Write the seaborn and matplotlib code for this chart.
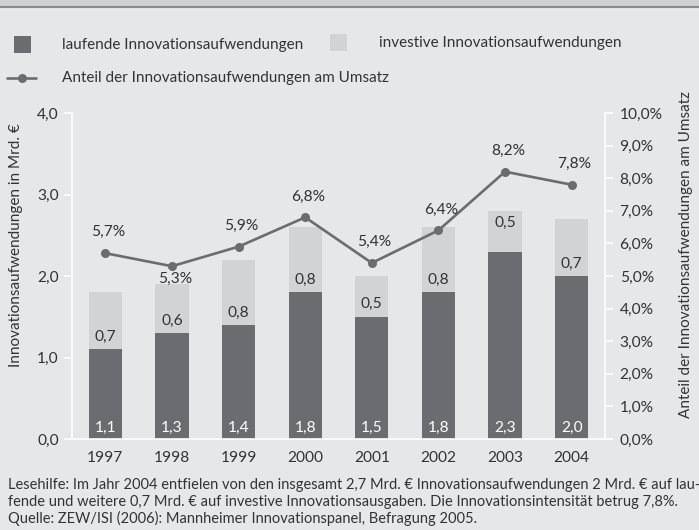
import matplotlib
matplotlib.use("Agg")
import matplotlib.pyplot as plt
from matplotlib.patches import Rectangle
from matplotlib.lines import Line2D
from matplotlib.ticker import FixedLocator, FuncFormatter
import seaborn as sns
import pandas as pd

# ---- data ----
years = ["1997", "1998", "1999", "2000", "2001", "2002", "2003", "2004"]
laufende = [1.1, 1.3, 1.4, 1.8, 1.5, 1.8, 2.3, 2.0]
investive = [0.7, 0.6, 0.8, 0.8, 0.5, 0.8, 0.5, 0.7]
anteil = [5.7, 5.3, 5.9, 6.8, 5.4, 6.4, 8.2, 7.8]
left_ticks = [0.0, 1.0, 2.0, 3.0, 4.0]
right_ticks = [0, 1, 2, 3, 4, 5, 6, 7, 8, 9, 10]

legend_labels = ["laufende Innovationsaufwendungen",
                 "investive Innovationsaufwendungen",
                 "Anteil der Innovationsaufwendungen am Umsatz"]
ylabel_left = "Innovationsaufwendungen in Mrd. €"
ylabel_right = "Anteil der Innovationsaufwendungen am Umsatz"
footnote_lines = [
    "Lesehilfe: Im Jahr 2004 entfielen von den insgesamt 2,7 Mrd. € Innovationsaufwendungen 2 Mrd. € auf lau-",
    "fende und weitere 0,7 Mrd. € auf investive Innovationsausgaben. Die Innovationsintensität betrug 7,8%.",
    "Quelle: ZEW/ISI (2006): Mannheimer Innovationspanel, Befragung 2005.",
]

BG = "#e6e7e9"
DARK = "#6b6c70"
LIGHT = "#d2d3d5"
TXT = "#333333"

sns.set_theme(style="white")
plt.rcParams["font.family"] = ["Lato", "DejaVu Sans"]

W, H = 699, 530
fig = plt.figure(figsize=(W / 100, H / 100), dpi=100, facecolor=BG)


def px(x, y):
    return x / W, 1 - y / H


df = pd.DataFrame({"year": years, "laufende": laufende, "investive": investive,
                   "total": [a + b for a, b in zip(laufende, investive)], "anteil": anteil})

ax = fig.add_axes([72 / W, 1 - 439 / H, (605 - 72) / W, (439 - 113) / H])
ax.set_facecolor(BG)
sns.barplot(data=df, x="year", y="total", color=LIGHT, width=0.5, saturation=1,
            edgecolor="none", linewidth=0, ax=ax)
sns.barplot(data=df, x="year", y="laufende", color=DARK, width=0.5, saturation=1,
            edgecolor="none", linewidth=0, ax=ax)
ax.set_xlim(-0.5, len(years) - 0.5)
ax.set_ylim(0, 4)
ax.set_xlabel("")
ax.set_ylabel("")
ax.yaxis.set_major_locator(FixedLocator(left_ticks))
ax.yaxis.set_major_formatter(FuncFormatter(lambda v, p: f"{v:.1f}".replace(".", ",")))

for s in ["top", "right"]:
    ax.spines[s].set_visible(False)
for s in ["left", "bottom"]:
    ax.spines[s].set_color("white")
    ax.spines[s].set_linewidth(1.2)
ax.tick_params(axis="y", colors="white", length=6, width=1.2, pad=3.5, labelsize=11.2, labelcolor=TXT)
ax.tick_params(axis="x", length=0, pad=9, labelsize=11.2, labelcolor=TXT)

# bar labels
for i, (lv, iv) in enumerate(zip(laufende, investive)):
    ax.annotate(f"{lv:.1f}".replace(".", ","), xy=(i, 0), xytext=(0, 8), textcoords="offset points",
                ha="center", va="center", color="white", fontsize=11.2)
    if years[i] == "2003":
        ax.annotate(f"{iv:.1f}".replace(".", ","), xy=(i, lv + iv), xytext=(0, -8.5), textcoords="offset points",
                    ha="center", va="center", color=TXT, fontsize=11.2)
    else:
        ax.annotate(f"{iv:.1f}".replace(".", ","), xy=(i, lv), xytext=(0, 9), textcoords="offset points",
                    ha="center", va="center", color=TXT, fontsize=11.2)

# right axis line
ax2 = ax.twinx()
ax2.set_position(ax.get_position())
sns.lineplot(x=list(range(len(years))), y=anteil, color=DARK, linewidth=1.9, marker="o",
             markersize=6.5, markeredgewidth=0, ax=ax2)
ax2.set_ylim(0, 10)
ax2.set_xlim(-0.5, len(years) - 0.5)
ax2.yaxis.set_major_locator(FixedLocator(right_ticks))
ax2.yaxis.set_major_formatter(FuncFormatter(lambda v, p: f"{v:.1f}%".replace(".", ",")))
for s in ["top", "left", "bottom"]:
    ax2.spines[s].set_visible(False)
ax2.spines["right"].set_color("white")
ax2.spines["right"].set_linewidth(1.2)
ax2.tick_params(axis="y", colors="white", length=6, width=1.2, pad=4.5, labelsize=11.2, labelcolor=TXT)
ax2.set_ylabel("")

for i, v in enumerate(anteil):
    off = -9 if years[i] == "1998" else 15
    ax2.annotate(f"{v:.1f}%".replace(".", ","), xy=(i, v), xytext=(2, off), textcoords="offset points",
                 ha="center", va="center", color=TXT, fontsize=11.2)

# axis titles
fig.text(*px(16, 245), ylabel_left, rotation=90, ha="center", va="center", color=TXT, fontsize=11)
fig.text(*px(686, 254), ylabel_right, rotation=90, ha="center", va="center", color=TXT, fontsize=11)

# top band
fig.add_artist(Rectangle(px(0, 6.5), 1, 6.5 / H, transform=fig.transFigure, color="#cfd0d2", lw=0))
fig.add_artist(Line2D([0, 1], [1 - 6.5 / H] * 2, transform=fig.transFigure, color="#8a8b8d", lw=1.5))

# legend
x0, y0 = px(14, 52.7)
fig.add_artist(Rectangle((x0, y0), 17 / W, 17 / H, transform=fig.transFigure, color=DARK, lw=0))
x0, y0 = px(330, 51)
fig.add_artist(Rectangle((x0, y0), 17 / W, 17 / H, transform=fig.transFigure, color=LIGHT, lw=0))
fig.add_artist(Line2D([7 / W, 36 / W], [1 - 78 / H] * 2, transform=fig.transFigure, color=DARK, lw=1.9))
fig.add_artist(Line2D([21.5 / W], [1 - 78 / H], transform=fig.transFigure, color=DARK, marker="o",
                      markersize=6.5, markeredgewidth=0))
fig.text(*px(62, 45), legend_labels[0], ha="left", va="center", color=TXT, fontsize=11)
fig.text(*px(379, 43), legend_labels[1], ha="left", va="center", color=TXT, fontsize=11)
fig.text(*px(62, 78), legend_labels[2], ha="left", va="center", color=TXT, fontsize=11)

# footnote: fit first line to the reference width (x 8 .. 694 px)
foot_texts = [fig.text(*px(8, yy), line, ha="left", va="center", color=TXT, fontsize=10.4)
              for line, yy in zip(footnote_lines, [485, 502, 518])]
renderer = fig.canvas.get_renderer()
wpx = foot_texts[0].get_window_extent(renderer).width
fs = 10.4 * 686 / wpx
for t in foot_texts:
    t.set_fontsize(fs)

fig.savefig("out.png", dpi=100, facecolor=BG)
